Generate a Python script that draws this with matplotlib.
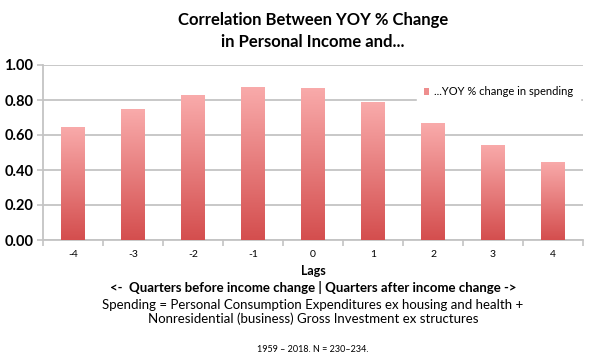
import numpy as np
import matplotlib.pyplot as plt
from matplotlib.colors import LinearSegmentedColormap

plt.rcParams["font.family"] = ["Lato", "DejaVu Sans"]

# ---------------------------------------------------------------------------
# Data
# ---------------------------------------------------------------------------
lags = ["-4", "-3", "-2", "-1", "0", "1", "2", "3", "4"]
corr_spending = [0.648, 0.747, 0.827, 0.875, 0.871, 0.787, 0.666, 0.545, 0.447]
series_label = "...YOY % change in spending"
y_ticks = [0.0, 0.2, 0.4, 0.6, 0.8, 1.0]

# ---------------------------------------------------------------------------
# Plot
# ---------------------------------------------------------------------------
fig = plt.figure(figsize=(5.91, 3.57), dpi=100)
fig.patch.set_facecolor("white")
ax = fig.add_axes([43 / 591, 1 - 240 / 357, 540 / 591, 175 / 357])

x = np.arange(len(lags))
bars = ax.bar(x, corr_spending, width=0.4, color="#EE8E8E", zorder=2,
              label=series_label)

# vertical gradient inside every bar (dark red at bottom, pink at top)
grad_cmap = LinearSegmentedColormap.from_list("bar_grad", ["#D44E4E", "#F9ABAB"])
grad = np.linspace(0, 1, 256).reshape(-1, 1)
for b in bars:
    x0, y0 = b.get_x(), b.get_y()
    w, h = b.get_width(), b.get_height()
    im = ax.imshow(grad, cmap=grad_cmap, origin="lower", aspect="auto",
                   extent=[x0, x0 + w, y0, y0 + h], zorder=3)
    im.set_clip_path(b)

ax.set_xlim(-0.5, len(lags) - 0.5)
ax.set_ylim(0, 1.0)
ax.set_yticks(y_ticks)
ax.set_yticklabels([f"{v:.2f}" for v in y_ticks], fontsize=10.5, fontweight="bold")
ax.yaxis.grid(True, color="#C4C4C4", linewidth=1.3, zorder=0)
ax.set_axisbelow(True)

ax.set_xticks(x)
ax.set_xticklabels(lags, fontsize=7.5)
ax.set_xticks(np.arange(-0.5, len(lags), 1.0), minor=True)
ax.tick_params(axis="x", which="major", length=0, pad=7)
ax.tick_params(axis="x", which="minor", length=4, color="#C4C4C4", width=1.2)
ax.tick_params(axis="y", length=4, color="#C4C4C4", width=1.2, pad=3)

for side in ["top", "right"]:
    ax.spines[side].set_visible(False)
for side in ["left", "bottom"]:
    ax.spines[side].set_color("#C4C4C4")
    ax.spines[side].set_linewidth(1.3)

leg = ax.legend(loc="center right", bbox_to_anchor=(1.0, 0.846), frameon=True,
                fontsize=8, handlelength=0.5, handleheight=0.5,
                handletextpad=0.4, borderpad=0.6, borderaxespad=0.3,
                fancybox=False)
leg.get_frame().set_edgecolor("white")
leg.get_frame().set_alpha(1)

fig.text(313 / 591, 1 - 31 / 357,
         "Correlation Between YOY % Change\nin Personal Income and...",
         ha="center", va="center", fontsize=12, fontweight="bold",
         linespacing=1.45)

fig.text(313 / 591, 1 - 271 / 357, "Lags", ha="center", va="center",
         fontsize=9, fontweight="bold")
fig.text(313 / 591, 1 - 287 / 357,
         "<-  Quarters before income change | Quarters after income change ->",
         ha="center", va="center", fontsize=9.5, fontweight="bold")
fig.text(313 / 591, 1 - 312 / 357,
         "Spending = Personal Consumption Expenditures ex housing and health +\n"
         "Nonresidential (business) Gross Investment ex structures",
         ha="center", va="center", fontsize=9.5, linespacing=1.2)
fig.text(313 / 591, 1 - 349 / 357, "1959 \u2013 2018. N = 230\u2013234.",
         ha="center", va="center", fontsize=6.5)

plt.savefig("out.png", dpi=100, facecolor="white")
plt.close()
